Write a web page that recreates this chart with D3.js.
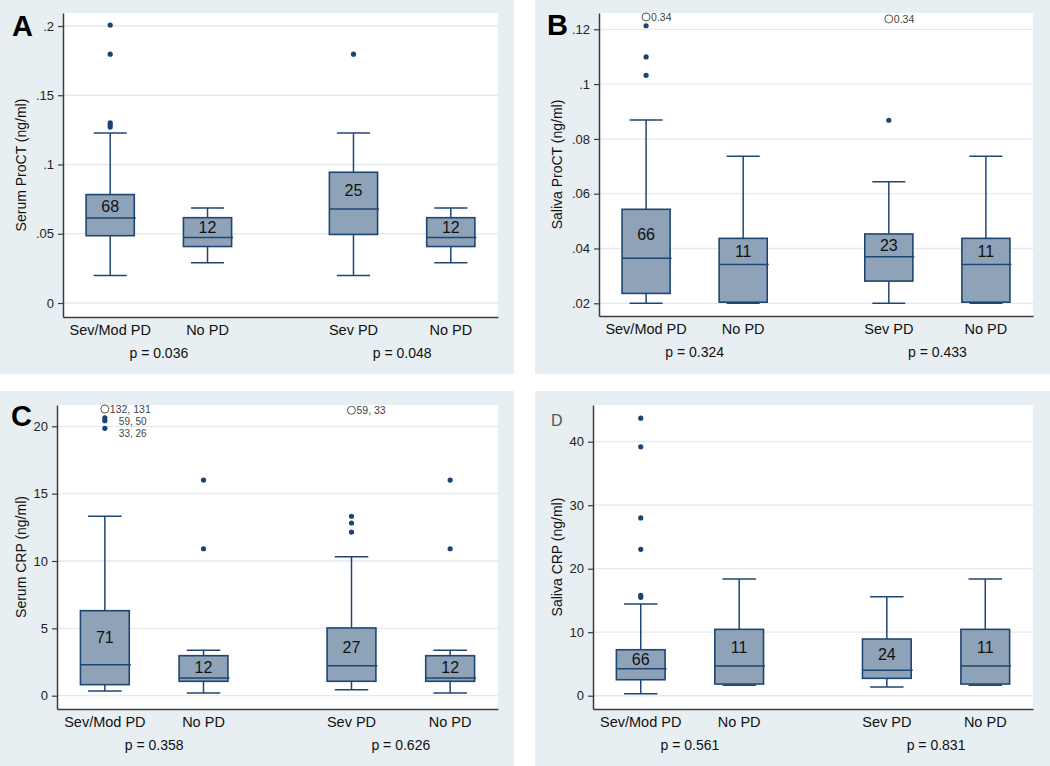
<!DOCTYPE html>
<html><head><meta charset="utf-8">
<script src="https://cdn.jsdelivr.net/npm/d3@7"></script>
<style>
body{margin:0;background:#fff;}
svg{display:block;}
text{font-family:Arial,"Liberation Sans",sans-serif;}
</style>
</head><body>
<svg id="chart" width="1050" height="766"></svg>
<script>
// ---------- shared ----------
const categories = ["Sev/Mod PD", "No PD", "Sev PD", "No PD"];

// ---------- Panel A: Serum ProCT ----------
const aLow    = [0.0198, 0.0290, 0.0198, 0.0290];
const aQ1     = [0.0486, 0.0408, 0.0495, 0.0408];
const aMedian = [0.0614, 0.0473, 0.0679, 0.0473];
const aQ3     = [0.0783, 0.0616, 0.0944, 0.0616];
const aHigh   = [0.1227, 0.0686, 0.1227, 0.0686];
const aN      = [68, 12, 25, 12];
const aOutliers = [[0.2007, 0.1797, 0.1300, 0.1285, 0.1270], [], [0.1797], []];
const aP = ["p = 0.036", "p = 0.048"];
const aTicks = [0, 0.05, 0.1, 0.15, 0.2];
const aTickLabels = ["0", ".05", ".1", ".15", ".2"];

// ---------- Panel B: Saliva ProCT ----------
const bLow    = [0.0200, 0.0200, 0.0200, 0.0200];
const bQ1     = [0.0236, 0.0204, 0.0281, 0.0204];
const bMedian = [0.0364, 0.0342, 0.0370, 0.0342];
const bQ3     = [0.0543, 0.0437, 0.0453, 0.0437];
const bHigh   = [0.0869, 0.0737, 0.0644, 0.0737];
const bN      = [66, 11, 23, 11];
const bOutliers = [[0.1213, 0.1099, 0.1032], [], [0.0868], []];
const bOffScale = [{cat: 0, value: 0.1245, label: "0.34"}, {cat: 2, value: 0.1238, label: "0.34"}];
const bP = ["p = 0.324", "p = 0.433"];
const bTicks = [0.02, 0.04, 0.06, 0.08, 0.1, 0.12];
const bTickLabels = [".02", ".04", ".06", ".08", ".1", ".12"];

// ---------- Panel C: Serum CRP ----------
const cLow    = [0.35, 0.20, 0.45, 0.20];
const cQ1     = [0.82, 1.07, 1.07, 1.07];
const cMedian = [2.30, 1.31, 2.23, 1.31];
const cQ3     = [6.31, 2.97, 5.03, 2.97];
const cHigh   = [13.32, 3.37, 10.32, 3.37];
const cN      = [71, 12, 27, 12];
const cOutliers = [[20.62, 20.42, 19.85], [16.01, 10.91], [13.32, 12.82, 12.15], [16.01, 10.91]];
const cOutlierLabels = [{cat: 0, value: 20.5, label: "59, 50", shift: 1.5}, {cat: 0, value: 19.85, label: "33, 26", shift: 4.8}];
const cOffScale = [{cat: 0, value: 21.28, label: "132, 131"}, {cat: 2, value: 21.19, label: "59, 33"}];
const cP = ["p = 0.358", "p = 0.626"];
const cTicks = [0, 5, 10, 15, 20];
const cTickLabels = ["0", "5", "10", "15", "20"];

// ---------- Panel D: Saliva CRP ----------
const dLow    = [0.31, 1.64, 1.37, 1.64];
const dQ1     = [2.52, 1.84, 2.74, 1.84];
const dMedian = [4.25, 4.68, 4.00, 4.68];
const dQ3     = [7.24, 10.45, 8.93, 10.45];
const dHigh   = [14.44, 18.38, 15.59, 18.38];
const dN      = [66, 11, 24, 11];
const dOutliers = [[43.7, 39.2, 28.0, 23.05, 15.8, 15.5], [], [], []];
const dP = ["p = 0.561", "p = 0.831"];
const dTicks = [0, 10, 20, 30, 40];
const dTickLabels = ["0", "10", "20", "30", "40"];

// ---------- layout / styling ----------
const BG = "#e8eff2", GRID = "#e3ebee", AXIS = "#3c3c3c";
const BOX_FILL = "#8fa3b8", BOX_STROKE = "#1f4672", DOT = "#1b4374";

const panels = [
  {letter: "A", bold: true, letterPos: [12, 36], bg: [0, 0, 514, 374], plot: [63, 13, 498, 317],
   domain: [-0.0101, 0.2094], title: "Serum ProCT (ng/ml)", titleX: 21,
   low: aLow, q1: aQ1, med: aMedian, q3: aQ3, high: aHigh, n: aN, outliers: aOutliers,
   offScale: [], outLabels: [], p: aP, ticks: aTicks, tickLabels: aTickLabels},
  {letter: "B", bold: true, letterPos: [547, 35], bg: [535, 0, 515, 374], plot: [599, 13, 1033, 316],
   domain: [0.01536, 0.12595], title: "Saliva ProCT (ng/ml)", titleX: 557,
   low: bLow, q1: bQ1, med: bMedian, q3: bQ3, high: bHigh, n: bN, outliers: bOutliers,
   offScale: bOffScale, outLabels: [], p: bP, ticks: bTicks, tickLabels: bTickLabels},
  {letter: "C", bold: true, letterPos: [11, 426], bg: [0, 391, 514, 375], plot: [57, 405, 498, 709],
   domain: [-0.987, 21.58], title: "Serum CRP (ng/ml)", titleX: 21,
   low: cLow, q1: cQ1, med: cMedian, q3: cQ3, high: cHigh, n: cN, outliers: cOutliers,
   offScale: cOffScale, outLabels: cOutlierLabels, p: cP, ticks: cTicks, tickLabels: cTickLabels},
  {letter: "D", bold: false, letterPos: [551, 426], bg: [535, 391, 515, 375], plot: [593, 405, 1033, 709],
   domain: [-2.09, 45.78], title: "Saliva CRP (ng/ml)", titleX: 557,
   low: dLow, q1: dQ1, med: dMedian, q3: dQ3, high: dHigh, n: dN, outliers: dOutliers,
   offScale: [], outLabels: [], p: dP, ticks: dTicks, tickLabels: dTickLabels}
];

const svg = d3.select("#chart");
const slot = i => i + (i >= 2 ? 0.5 : 0);   // gap between the two comparisons

panels.forEach(P => {
  const g = svg.append("g");
  const [bx, by, bw, bh] = P.bg;
  const [x0, y0, x1, y1] = P.plot;
  g.append("rect").attr("x", bx).attr("y", by).attr("width", bw).attr("height", bh).attr("fill", BG);
  g.append("rect").attr("x", x0).attr("y", y0).attr("width", x1 - x0).attr("height", y1 - y0).attr("fill", "#fff");

  const x = d3.scaleLinear().domain([-0.485, 3.985]).range([x0, x1]);
  const y = d3.scaleLinear().domain(P.domain).range([y1, y0]);
  const unit = x(1) - x(0);
  const boxW = 0.495 * unit, capW = 0.34 * unit;

  // gridlines
  g.selectAll(".grid").data(P.ticks).join("line")
    .attr("x1", x0).attr("x2", x1).attr("y1", d => y(d)).attr("y2", d => y(d))
    .attr("stroke", GRID).attr("stroke-width", 1.3);

  // y axis
  const yAxis = d3.axisLeft(y).tickValues(P.ticks).tickFormat((d, i) => P.tickLabels[i])
    .tickSize(5).tickSizeOuter(0).tickPadding(4);
  const ya = g.append("g").attr("transform", `translate(${x0},0)`).call(yAxis);
  ya.select(".domain").attr("stroke", AXIS).attr("stroke-width", 1.5);
  ya.selectAll(".tick line").attr("stroke", AXIS).attr("stroke-width", 1.2);
  ya.selectAll(".tick text").attr("font-size", 13).attr("fill", "#222")
    .attr("font-family", "Arial, 'Liberation Sans', sans-serif");

  // x axis (no ticks)
  const xAxis = d3.axisBottom(x).tickValues([]).tickSizeOuter(0);
  const xa = g.append("g").attr("transform", `translate(0,${y1})`).call(xAxis);
  xa.select(".domain").attr("stroke", AXIS).attr("stroke-width", 1.5);

  // category labels
  g.selectAll(".cat").data(categories).join("text")
    .attr("x", (d, i) => x(slot(i))).attr("y", y1 + 18)
    .attr("text-anchor", "middle").attr("font-size", 14.5).attr("fill", "#111").text(d => d);

  // p values
  g.selectAll(".pv").data(P.p).join("text")
    .attr("x", (d, i) => x(i === 0 ? (slot(0) + slot(1)) / 2 : (slot(2) + slot(3)) / 2))
    .attr("y", y1 + 41).attr("text-anchor", "middle").attr("font-size", 14).attr("fill", "#111").text(d => d);

  // y title
  const cy = (y0 + y1) / 2;
  g.append("text").attr("transform", `translate(${P.titleX},${cy}) rotate(-90)`)
    .attr("text-anchor", "middle").attr("dy", "0.35em").attr("font-size", 14).attr("fill", "#111").text(P.title);

  // panel letter
  g.append("text").attr("x", P.letterPos[0]).attr("y", P.letterPos[1])
    .attr("font-size", P.bold ? 29 : 16).attr("font-weight", P.bold ? "bold" : "normal")
    .attr("fill", P.bold ? "#000" : "#555").text(P.letter);

  // boxes
  categories.forEach((c, i) => {
    const cx = x(slot(i));
    const bg2 = g.append("g");
    bg2.append("line").attr("x1", cx).attr("x2", cx).attr("y1", y(P.high[i])).attr("y2", y(P.q3[i]))
      .attr("stroke", BOX_STROKE).attr("stroke-width", 1.5);
    bg2.append("line").attr("x1", cx).attr("x2", cx).attr("y1", y(P.q1[i])).attr("y2", y(P.low[i]))
      .attr("stroke", BOX_STROKE).attr("stroke-width", 1.5);
    [P.high[i], P.low[i]].forEach(v => {
      bg2.append("line").attr("x1", cx - capW / 2).attr("x2", cx + capW / 2).attr("y1", y(v)).attr("y2", y(v))
        .attr("stroke", BOX_STROKE).attr("stroke-width", 1.5);
    });
    bg2.append("rect").attr("x", cx - boxW / 2).attr("y", y(P.q3[i]))
      .attr("width", boxW).attr("height", y(P.q1[i]) - y(P.q3[i]))
      .attr("fill", BOX_FILL).attr("stroke", BOX_STROKE).attr("stroke-width", 1.6);
    bg2.append("line").attr("x1", cx - boxW / 2).attr("x2", cx + boxW / 2 + 1.5)
      .attr("y1", y(P.med[i])).attr("y2", y(P.med[i]))
      .attr("stroke", BOX_STROKE).attr("stroke-width", 1.5);
    bg2.append("text").attr("x", cx).attr("y", (y(P.q3[i]) + y(P.med[i])) / 2)
      .attr("dy", "0.36em").attr("text-anchor", "middle")
      .attr("font-family", "'DejaVu Sans', sans-serif").attr("font-size", 16).attr("fill", "#111")
      .text(P.n[i]);
    bg2.selectAll("circle").data(P.outliers[i]).join("circle")
      .attr("cx", cx).attr("cy", d => y(d)).attr("r", 2.6).attr("fill", DOT);
  });

  // off-scale markers
  P.offScale.forEach(o => {
    const cx = x(slot(o.cat));
    g.append("circle").attr("cx", cx).attr("cy", y(o.value)).attr("r", 4)
      .attr("fill", "#fff").attr("stroke", "#444").attr("stroke-width", 0.9);
    g.append("text").attr("x", cx + 5).attr("y", y(o.value)).attr("dy", "0.4em")
      .attr("font-size", 10.5).attr("fill", "#444").text(o.label);
  });
  P.outLabels.forEach(o => {
    const cx = x(slot(o.cat));
    g.append("text").attr("x", cx + 14).attr("y", y(o.value) + o.shift).attr("dy", "0.36em")
      .attr("font-size", 10).attr("fill", "#444").text(o.label);
  });
});
</script>
</body></html>
